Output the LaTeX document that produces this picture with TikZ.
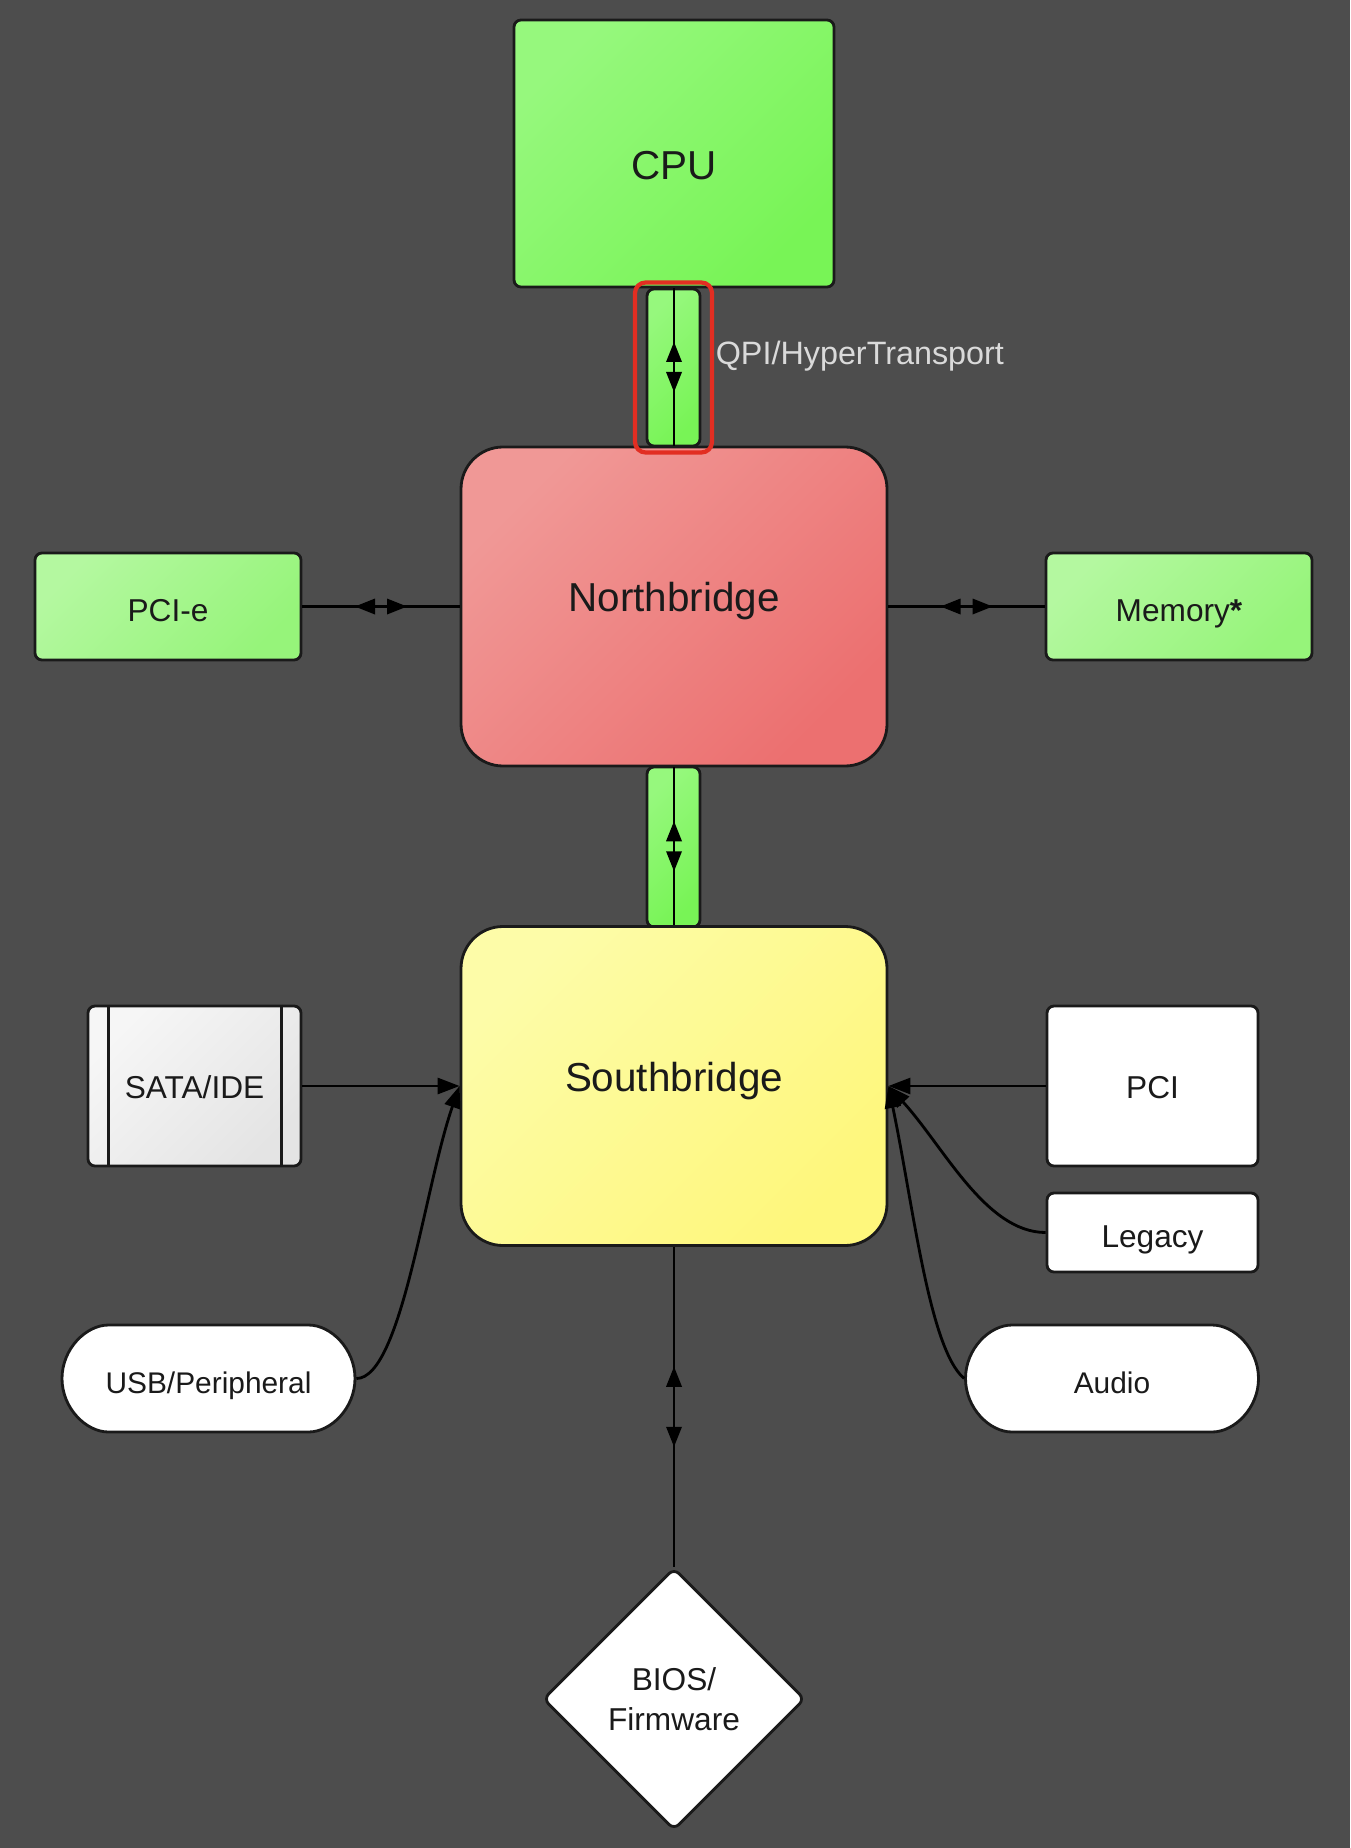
\documentclass[tikz,border=0pt]{standalone}
\usepackage{fontspec}
\setmainfont{Liberation Sans}
\usetikzlibrary{arrows.meta,positioning,calc,shapes.geometric,shapes.misc,decorations.markings}
\definecolor{bg}{RGB}{77,77,77}
\definecolor{edge}{RGB}{26,26,26}
\definecolor{grnA}{RGB}{150,248,125}
\definecolor{grnB}{RGB}{120,244,86}
\definecolor{lgrnA}{RGB}{180,248,160}
\definecolor{lgrnB}{RGB}{150,244,122}
\definecolor{redA}{RGB}{240,152,150}
\definecolor{redB}{RGB}{236,112,112}
\definecolor{yelA}{RGB}{253,252,168}
\definecolor{yelB}{RGB}{254,247,124}
\definecolor{greyA}{RGB}{246,246,246}
\definecolor{greyB}{RGB}{228,228,228}
\definecolor{hilite}{RGB}{226,46,34}
\definecolor{lbltext}{RGB}{218,218,218}
\tikzset{
  >={Triangle[length=2.2mm,width=1.6mm]},
  box/.style={draw=edge, line width=0.8pt, inner sep=0pt, text=edge,
    rounded corners=2pt, font=\fontsize{9}{11}\selectfont,
    text height=0.30cm, text depth=0pt},
  chip/.style={draw=edge, line width=0.8pt, inner sep=0pt, text=edge,
    rounded corners=0.42cm, minimum width=4.26cm, minimum height=3.19cm,
    font=\fontsize{11.5}{14}\selectfont, text depth=0.19cm},
  grnfill/.style={top color=grnA, bottom color=grnB, shading angle=45},
  lgrnfill/.style={top color=lgrnA, bottom color=lgrnB, shading angle=45},
  redfill/.style={top color=redA, bottom color=redB, shading angle=45},
  yelfill/.style={top color=yelA, bottom color=yelB, shading angle=45},
  greyfill/.style={top color=greyA, bottom color=greyB, shading angle=45},
  card/.style={box, lgrnfill, minimum width=2.66cm, minimum height=1.07cm},
  port/.style={box, fill=white, minimum width=2.11cm},
  pill/.style={box, fill=white, rounded rectangle, minimum width=2.93cm,
    minimum height=1.07cm, font=\fontsize{8.5}{10}\selectfont},
  bus/.style={draw=edge, line width=0.8pt, rounded corners=2pt, grnfill,
    minimum width=0.53cm, minimum height=1.57cm, inner sep=0pt},
  focus/.style={draw=hilite, line width=1.2pt, rounded corners=3pt,
    minimum width=0.77cm, minimum height=1.70cm, inner sep=0pt},
  link/.style={draw=black, line width=0.8pt},
  bidir/.style={postaction={decorate}, decoration={markings,
    mark=at position 0.5 with {
      \fill[black] (#1,0) -- ++(-0.20,0.08) -- ++(0,-0.16) -- cycle;
      \fill[black] (-#1,0) -- ++(0.20,0.08) -- ++(0,-0.16) -- cycle;}}},
  bidir/.default=0.26
}
\begin{document}
\begin{tikzpicture}
  % Background
  \fill[bg] (0,0) rectangle (13.5,-18.48);

  % CPU, bridges and the buses between them
  \node[chip, grnfill, minimum width=3.20cm, minimum height=2.67cm,
    rounded corners=2pt, text height=0.53cm, text depth=0pt] (cpu) at (6.74,-1.535) {CPU};
  \node[bus] (qpi) at (6.735,-3.675) {};
  \node[chip, redfill] (nb) at (6.74,-6.065) {Northbridge};
  \node[bus, minimum height=1.60cm] (dmi) at (6.735,-8.47) {};
  \node[chip, yelfill] (sb) at (6.74,-10.86) {Southbridge};

  % Northbridge devices
  \node[card] (pcie) at (1.68,-6.065) {PCI-e};
  \node[card] (mem) at (11.79,-6.065) {Memory\textbf{*}};

  % Southbridge devices
  \node[box, greyfill, minimum width=2.13cm, minimum height=1.60cm,
    text height=0.24cm] (sata) at (1.945,-10.86) {SATA/IDE};
  \draw[edge, line width=0.8pt] ([xshift=0.22cm]sata.north west) -- ([xshift=0.22cm]sata.south west);
  \draw[edge, line width=0.8pt] ([xshift=-0.21cm]sata.north east) -- ([xshift=-0.21cm]sata.south east);
  \node[port, minimum height=1.60cm, text height=0.24cm] (pci) at (11.525,-10.86) {PCI};
  \node[port, minimum height=0.79cm] (legacy) at (11.525,-12.325) {Legacy};
  \node[pill] (usb) at (2.085,-13.785) {USB/Peripheral};
  \node[pill] (audio) at (11.12,-13.785) {Audio};
  \node[draw=edge, line width=0.8pt, fill=white, text=edge, diamond, aspect=1,
    rounded corners=2pt, inner sep=0pt, minimum width=2.62cm, minimum height=2.62cm,
    font=\fontsize{9}{11.4}\selectfont, align=center] (bios) at (6.74,-16.99) {BIOS/\\Firmware};

  % Links
  \draw[link, bidir=0.25] (cpu.south) -- (nb.north);
  \draw[link, bidir=0.25] (nb.south) -- (sb.north);
  \draw[link, bidir] (pcie.east) -- (nb.west);
  \draw[link, bidir] (nb.east) -- (mem.west);
  \draw[link, bidir=0.40] (sb.south) -- (bios.north);
  \draw[link, ->] (sata.east) -- (sb.west);
  \draw[link, ->] (usb.east) .. controls +(0.45,0) and +(-0.35,-1.0) .. (sb.west);
  \draw[link, ->] (pci.west) -- (sb.east);
  \draw[link, ->] (legacy.west) .. controls +(-0.6,0) and +(0.55,-0.6) .. (sb.east);
  \draw[link, ->] (audio.west) .. controls +(-0.35,0.3) and +(0.25,-1.2) .. (sb.east);

  % Highlighted bus
  \node[focus] (hl) at (qpi) {};
  \node[right=0.01cm of hl, yshift=0.11cm, inner sep=0pt, text=lbltext,
    font=\fontsize{9.2}{11}\selectfont] (qpilbl) {QPI/HyperTransport};
\end{tikzpicture}
\end{document}
